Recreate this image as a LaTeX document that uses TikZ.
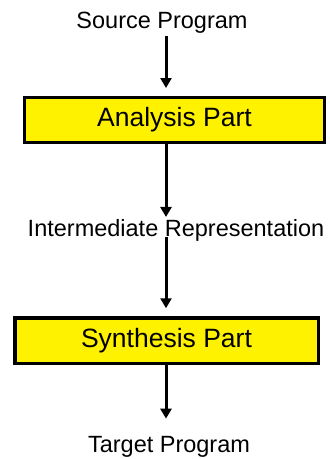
\documentclass[tikz,border=0pt]{standalone}
\usepackage{fontspec}
\setmainfont{Liberation Sans}
\usetikzlibrary{arrows.meta}

\tikzset{
  label text/.style={inner sep=0pt, anchor=base, font=\fontsize{23.5}{28}\selectfont},
  part box/.style={draw=black, line width=3.5pt, fill=yellow, inner sep=0pt,
    font=\fontsize{26.5}{31}\selectfont},
  flow/.style={line width=3pt, -{Triangle[width=11pt,length=10pt]}}
}

\begin{document}
\begin{tikzpicture}[x=1pt, y=-1pt]
  \useasboundingbox (0,0) rectangle (330,459);
  \coordinate (axis) at (166,0);

  % text labels
  \node[label text] (src) at (162,28) {Source Program};
  \node[label text] (ir)  at (176,236) {Intermediate Representation};
  \node[label text] (tgt) at (169,452) {Target Program};

  % the two compiler phases
  \node[part box, minimum width=300pt, minimum height=45pt] (ana) at (174.5,120) {Analysis Part};
  \node[part box, minimum width=303.5pt, minimum height=45.5pt] (syn) at (166.5,340.5) {Synthesis Part};

  % flow arrows
  \draw[flow, shorten <=3pt, shorten >=7.75pt] (src.south -| axis) -- (ana.north -| axis);
  \draw[flow, shorten >=1.8pt] (ana.south -| axis) -- (ir.north -| axis);
  \draw[flow, shorten <=-4pt, shorten >=7.75pt] (ir.south -| axis) -- (syn.north -| axis);
  \draw[flow, shorten >=17pt] (syn.south -| axis) -- (tgt.north -| axis);
\end{tikzpicture}
\end{document}
